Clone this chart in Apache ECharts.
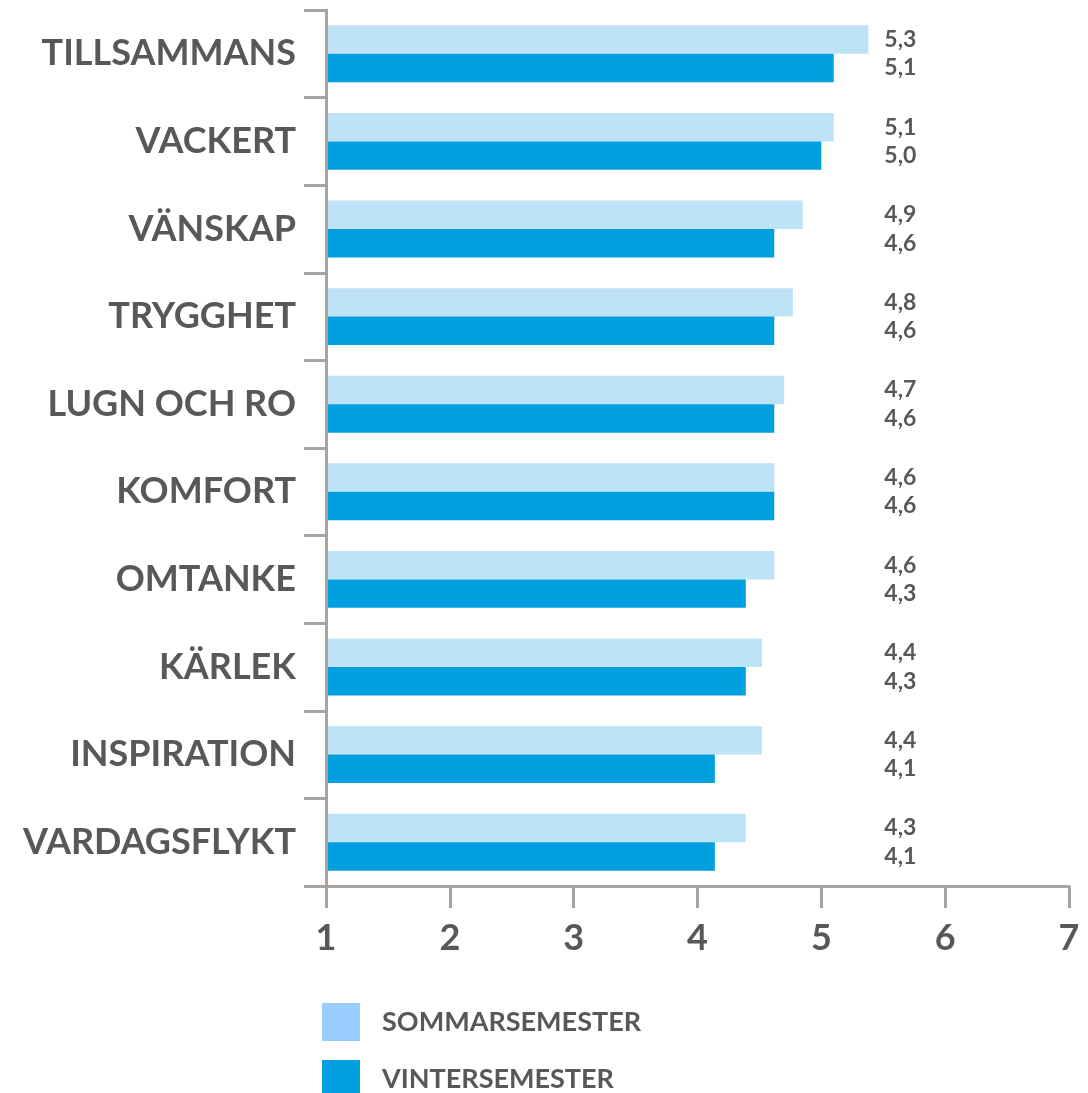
<!DOCTYPE html>
<html>
<head>
<meta charset="utf-8">
<script src="https://cdn.jsdelivr.net/npm/echarts@6/dist/echarts.min.js"></script>
<style>
  html, body { margin: 0; padding: 0; background: #fff; }
  #chart { width: 1088px; height: 1093px; }
</style>
</head>
<body>
<div id="chart"></div>
<script>
var categories = ["TILLSAMMANS", "VACKERT", "VÄNSKAP", "TRYGGHET", "LUGN OCH RO", "KOMFORT", "OMTANKE", "KÄRLEK", "INSPIRATION", "VARDAGSFLYKT"];
var sommar = [5.38, 5.10, 4.85, 4.77, 4.70, 4.62, 4.62, 4.52, 4.52, 4.39];
var vinter = [5.10, 5.00, 4.62, 4.62, 4.62, 4.62, 4.39, 4.39, 4.14, 4.14];
var sommarText = ["5,3", "5,1", "4,9", "4,8", "4,7", "4,6", "4,6", "4,4", "4,4", "4,3"];
var vinterText = ["5,1", "5,0", "4,6", "4,6", "4,6", "4,6", "4,3", "4,3", "4,1", "4,1"];
var xTicks = [1, 2, 3, 4, 5, 6, 7];

var labelCol = 5.46; // where the value labels column sits on the scale
var textColor = "#58585a";
var axisColor = "#a9a4a0";
var font = "Lato";

// transparent filler bars so the value labels line up in one column
function filler(vals) {
  return vals.map(function (v) { return +(labelCol - v).toFixed(3); });
}

var myChart = echarts.init(document.getElementById("chart"));
myChart.setOption({
  animation: false,
  grid: { left: 326, right: 19, top: 10, bottom: 207, containLabel: false },
  legend: {
    orient: "vertical",
    left: 322,
    top: 1003,
    height: 120,
    padding: 0,
    itemWidth: 38,
    itemHeight: 38,
    itemGap: 19,
    icon: "rect",
    textStyle: { color: textColor, fontFamily: font, fontWeight: "bold", fontSize: 27, padding: [0, 0, 0, 17] },
    data: [
      { name: "SOMMARSEMESTER", itemStyle: { color: "#99ccff" } },
      { name: "VINTERSEMESTER", itemStyle: { color: "#009fe0" } }
    ]
  },
  xAxis: {
    type: "value",
    min: xTicks[0],
    max: xTicks[xTicks.length - 1],
    interval: 1,
    splitLine: { show: false },
    axisLine: { show: true, lineStyle: { color: axisColor, width: 3 } },
    axisTick: { show: true, length: 22, lineStyle: { color: axisColor, width: 3 } },
    axisLabel: { color: textColor, fontFamily: font, fontWeight: "bold", fontSize: 36, margin: 34 }
  },
  yAxis: {
    type: "category",
    data: categories,
    inverse: true,
    z: 3,
    axisLine: { show: true, lineStyle: { color: axisColor, width: 3 } },
    axisTick: { show: true, length: 22, lineStyle: { color: axisColor, width: 3 } },
    axisLabel: { color: textColor, fontFamily: font, fontWeight: "bold", fontSize: 36, margin: 30 }
  },
  series: [
    {
      name: "SOMMARSEMESTER",
      type: "bar",
      stack: "s",
      barCategoryGap: "35%",
      barGap: "0%",
      itemStyle: { color: "#bee3f6" },
      data: sommar
    },
    {
      name: "sommarLabel",
      type: "bar",
      stack: "s",
      itemStyle: { color: "transparent" },
      label: {
        show: true,
        position: "right",
        distance: 6,
        color: textColor,
        fontFamily: font,
        fontWeight: "bold",
        fontSize: 23,
        formatter: function (p) { return sommarText[p.dataIndex]; }
      },
      data: filler(sommar)
    },
    {
      name: "VINTERSEMESTER",
      type: "bar",
      stack: "v",
      itemStyle: { color: "#009fe0" },
      data: vinter
    },
    {
      name: "vinterLabel",
      type: "bar",
      stack: "v",
      itemStyle: { color: "transparent" },
      label: {
        show: true,
        position: "right",
        distance: 6,
        color: textColor,
        fontFamily: font,
        fontWeight: "bold",
        fontSize: 23,
        formatter: function (p) { return vinterText[p.dataIndex]; }
      },
      data: filler(vinter)
    }
  ]
});
</script>
</body>
</html>
